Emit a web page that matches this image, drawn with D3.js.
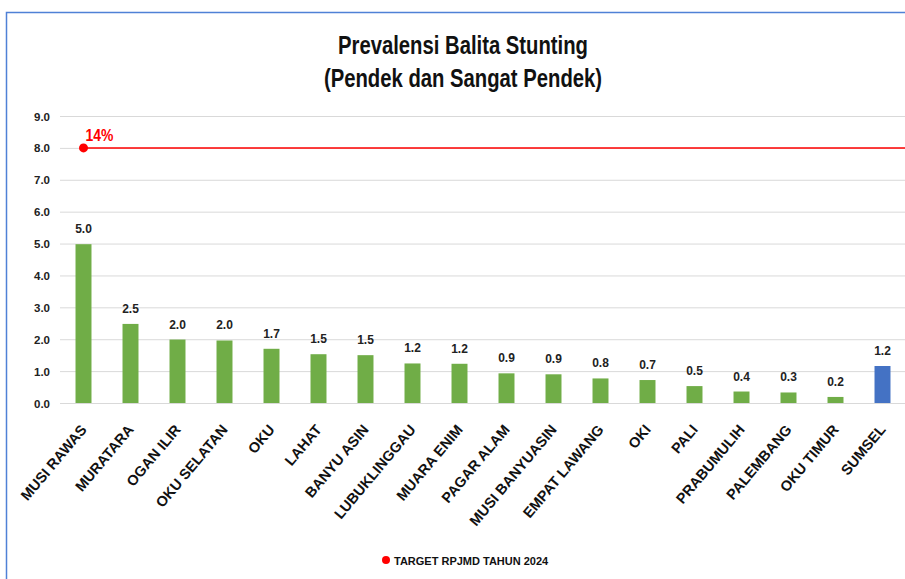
<html>
<head>
  <style type="text/css">
    body { margin: 0; background: #fff; }
    .axis--y .domain { display: none; }
    .axis--y .tick line { stroke: #d9d9d9; }
    .axis--y text { font-family: "Liberation Sans", Arial, sans-serif; font-weight: bold; font-size: 11.5px; fill: #222; }
  </style>
</head>
<body>
  <svg width="905" height="579"></svg>
  <script src="https://cdnjs.cloudflare.com/ajax/libs/d3/7.8.5/d3.min.js"></script>
  <script>
  // data
  const categories = ['MUSI RAWAS', 'MURATARA', 'OGAN ILIR', 'OKU SELATAN', 'OKU', 'LAHAT',
    'BANYU ASIN', 'LUBUKLINGGAU', 'MUARA ENIM', 'PAGAR ALAM', 'MUSI BANYUASIN',
    'EMPAT LAWANG', 'OKI', 'PALI', 'PRABUMULIH', 'PALEMBANG', 'OKU TIMUR', 'SUMSEL'];
  const values = [4.98, 2.48, 1.99, 1.96, 1.70, 1.53, 1.50, 1.24, 1.23, 0.93, 0.90,
    0.77, 0.72, 0.53, 0.36, 0.33, 0.19, 1.16];
  const yTicks = [0, 1, 2, 3, 4, 5, 6, 7, 8, 9];
  const targetValue = 8;
  const targetLabel = '14%';
  const legendLabel = 'TARGET RPJMD TAHUN 2024';
  const titleLines = ['Prevalensi Balita Stunting', '(Pendek dan Sangat Pendek)'];

  const svg = d3.select("svg");
  const margin = {top: 116, right: -1, bottom: 176, left: 60};
  const width = +svg.attr("width") - margin.left - margin.right;
  const height = +svg.attr("height") - margin.top - margin.bottom;

  // frame
  svg.append("rect")
    .attr("x", 6.5).attr("y", 12.5)
    .attr("width", 1000).attr("height", 1000)
    .attr("fill", "none")
    .attr("stroke", "#4f81d6")
    .attr("stroke-width", 1.5);

  // title (condensed, Calibri-like)
  svg.selectAll(".title")
    .data(titleLines)
    .join("text")
      .attr("class", "title")
      .attr("transform", (d, i) => "translate(463," + (54 + i * 33) + ") scale(0.78,1)")
      .attr("text-anchor", "middle")
      .style("font-family", '"Liberation Sans", Arial, sans-serif')
      .style("font-weight", "bold")
      .style("font-size", "26px")
      .attr("fill", "#111")
      .text(d => d);

  const g = svg.append("g")
    .attr("transform", "translate(" + margin.left + "," + margin.top + ")");

  const x = d3.scaleBand()
    .domain(categories)
    .range([0, width])
    .paddingInner(0.66)
    .paddingOuter(0.33);

  const y = d3.scaleLinear()
    .domain([0, 9])
    .range([height, 0]);

  g.append("g")
    .attr("class", "axis axis--y")
    .call(d3.axisLeft(y).tickValues(yTicks).tickFormat(d3.format(".1f"))
      .tickSize(-width).tickPadding(10))
    .call(a => a.selectAll(".tick text").attr("dy", "0.35em"));

  // bars
  g.append("g")
    .selectAll("rect")
    .data(values)
    .join("rect")
      .attr("x", (d, i) => x(categories[i]))
      .attr("y", d => y(d))
      .attr("width", x.bandwidth())
      .attr("height", d => height - y(d))
      .attr("fill", (d, i) => categories[i] === 'SUMSEL' ? '#4472c4' : '#70ad47');

  // value labels
  g.append("g")
    .selectAll("text")
    .data(values)
    .join("text")
      .attr("x", (d, i) => x(categories[i]) + x.bandwidth() / 2)
      .attr("y", d => y(d) - 11)
      .attr("text-anchor", "middle")
      .style("font-family", '"Liberation Sans", Arial, sans-serif')
      .style("font-weight", "bold")
      .style("font-size", "12px")
      .attr("fill", "#222")
      .text(d => d3.format(".1f")(d));

  // category labels
  g.append("g")
    .selectAll("text")
    .data(categories)
    .join("text")
      .attr("transform", d => "translate(" + (x(d) + x.bandwidth() / 2 + 4) + "," + (height + 27) + ") rotate(-50)")
      .attr("text-anchor", "end")
      .style("font-family", '"Liberation Sans", Arial, sans-serif')
      .style("font-weight", "bold")
      .style("font-size", "14.5px")
      .attr("fill", "#111")
      .text(d => d);

  // target line
  const tx = x(categories[0]) + x.bandwidth() / 2;
  g.append("line")
    .attr("x1", tx).attr("x2", width)
    .attr("y1", y(targetValue)).attr("y2", y(targetValue))
    .attr("stroke", "#ff0000")
    .attr("stroke-width", 1.5);
  g.append("circle")
    .attr("cx", tx).attr("cy", y(targetValue)).attr("r", 4.5)
    .attr("fill", "#ff0000");
  g.append("text")
    .attr("transform", "translate(" + (tx + 2) + "," + (y(targetValue) - 7) + ") scale(0.82,1)")
    .style("font-family", '"Liberation Sans", Arial, sans-serif')
    .style("font-weight", "bold")
    .style("font-size", "17px")
    .attr("fill", "#ff0000")
    .text(targetLabel);

  // legend
  svg.append("circle")
    .attr("cx", 386).attr("cy", 560).attr("r", 4)
    .attr("fill", "#ff0000");
  svg.append("text")
    .attr("x", 394).attr("y", 564.5)
    .style("font-family", '"Liberation Sans", Arial, sans-serif')
    .style("font-weight", "bold")
    .style("font-size", "11px")
    .attr("fill", "#111")
    .text(legendLabel);
  </script>
</body>
</html>
